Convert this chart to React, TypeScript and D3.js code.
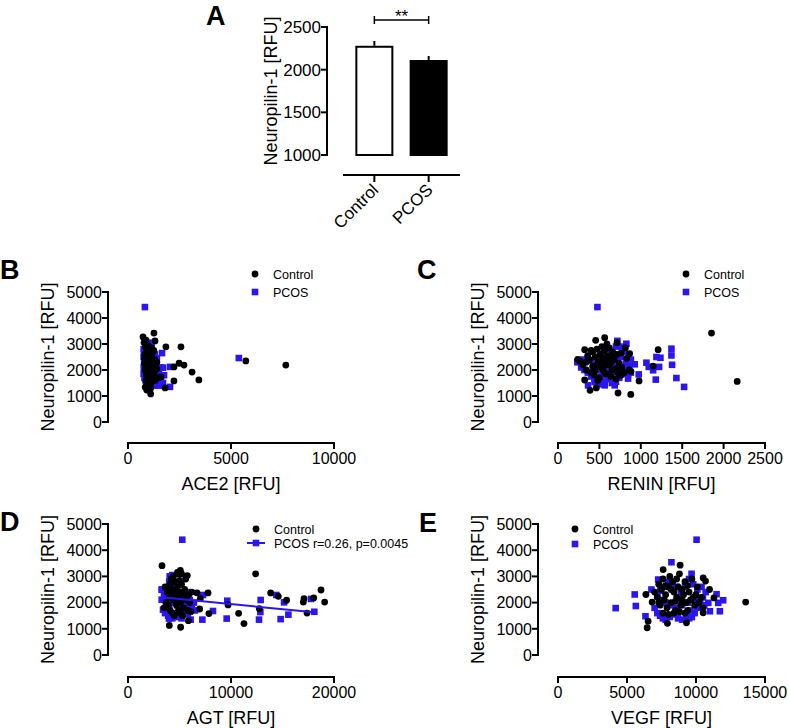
import React from 'react';
import * as d3 from 'd3';

type Pt = [number, number];

const FONT = "'Liberation Sans', Arial, Helvetica, sans-serif";
const BLUE = '#2a16f2';

// ---------- Panel A data ----------
const barCategories = ['Control', 'PCOS'];
const barMeans = [2280, 2113];
const barErrors = [56, 47];
const barTicks = [1000, 1500, 2000, 2500];

// ---------- Scatter axes ----------
const neuroTicks = [0, 1000, 2000, 3000, 4000, 5000];
const ace2Ticks = [0, 5000, 10000];
const reninTicks = [0, 500, 1000, 1500, 2000, 2500];
const agtTicks = [0, 10000, 20000];
const vegfTicks = [0, 5000, 10000, 15000];

// ---------- Panel B: ACE2 ----------
const ace2Control: Pt[] = [
  [1260, 3420], [1310, 3120], [1840, 2890], [2570, 2890], [2480, 2260], [2720, 2190], [2230, 2120],
  [3110, 1920], [3440, 1620], [2230, 1580], [1800, 1310], [1600, 1730], [5720, 2350], [7660, 2190],
  [910, 1230], [1100, 1080], [840, 1340], [730, 3270],
  [780, 3050], [850, 2900], [900, 2800], [950, 2700], [820, 2600], [1000, 2550], [880, 2450], [1100, 2500],
  [930, 2350], [1050, 2300], [800, 2250], [980, 2200], [1150, 2150], [870, 2100], [1020, 2050], [940, 2000],
  [1200, 2000], [860, 1950], [1080, 1900], [990, 1850], [1250, 1850], [900, 1800], [1050, 1750], [950, 1700],
  [1150, 1650], [880, 1600], [1000, 1550], [1300, 1600], [920, 1500], [1100, 1450], [1020, 2700], [1180, 2650],
  [1300, 2400], [1350, 2250], [870, 3150], [960, 2950], [1120, 2850], [1250, 2750], [900, 2250], [1000, 2400],
  [1400, 2050], [1300, 1950], [1450, 1700], [1100, 1300], [980, 1250], [830, 2000], [800, 2450], [1200, 2350],
  [1400, 2300], [1150, 1950], [1050, 2150], [950, 2500],
];
const ace2Pcos: Pt[] = [
  [820, 4420], [5380, 2460], [1650, 2650], [2040, 2120], [2040, 1350], [1750, 1800], [1700, 2090], [1460, 1500],
  [760, 2800], [780, 2650], [760, 2500], [800, 2350], [780, 2200], [770, 2100], [790, 1950], [760, 1850],
  [800, 1700], [850, 1600], [900, 1500], [1000, 1450], [1100, 1400], [1200, 1450], [1300, 1400], [1400, 1500],
  [1500, 1400], [1350, 1550], [1250, 1650], [1150, 1600], [950, 1700], [1050, 1800], [1150, 1850], [1300, 1750],
  [1500, 1900], [1600, 2100], [1450, 2000], [1350, 2200], [1200, 2300], [1100, 2400], [1000, 2600], [900, 2700],
  [850, 3000], [1000, 3050], [1150, 2900], [1300, 2600], [1400, 2450], [1050, 2200], [950, 2000], [880, 1800],
  [1600, 1600], [1700, 1500], [820, 2450], [1250, 2050],
];

// ---------- Panel C: RENIN ----------
const reninControl: Pt[] = [
  [1854, 3420], [2164, 1560], [1209, 2780], [1149, 2150], [979, 1580], [879, 1060], [725, 1115], [387, 1220],
  [463, 1310], [322, 1615], [238, 2410], [322, 2780], [564, 3240], [455, 3140], [713, 3050], [814, 2850], [866, 2630],
  [260, 2350], [300, 2200], [340, 2300], [380, 2400], [420, 2150], [450, 2000], [480, 2300], [510, 2600],
  [540, 2450], [560, 2750], [600, 2550], [620, 2200], [650, 2000], [680, 2400], [710, 2600], [740, 2250],
  [770, 2100], [800, 1900], [830, 2450], [860, 2000], [400, 1900], [440, 1800], [500, 1700], [550, 1950],
  [580, 1850], [640, 1750], [700, 1650], [760, 1800], [360, 2550], [420, 2700], [470, 2800], [530, 2900],
  [590, 3000], [620, 2850], [660, 2700], [450, 2500], [500, 2150], [540, 2050], [600, 2350], [650, 2500],
  [700, 2050], [720, 1900], [760, 2650], [550, 2300], [480, 1600], [400, 2750], [580, 2200], [640, 2300],
  [340, 2000], [880, 1950],
];
const reninPcos: Pt[] = [
  [476, 4420], [1370, 2820], [1370, 2560], [1378, 2200], [1430, 1690], [1523, 1350], [1181, 1630], [1237, 2470],
  [1189, 2500], [1068, 2280], [1096, 2120], [1149, 1990], [1221, 2120], [975, 1830], [846, 1830], [846, 1670],
  [826, 3010], [717, 3120], [927, 2220], [363, 1410], [564, 1410], [685, 1410], [443, 1540], [234, 2310], [282, 2120],
  [240, 2300], [280, 2100], [320, 2000], [360, 1900], [400, 1750], [440, 1650], [470, 1500], [520, 1450],
  [560, 1550], [600, 1650], [650, 1500], [700, 1550], [740, 1700], [780, 1850], [820, 2000], [860, 2150],
  [880, 2400], [850, 2600], [800, 2700], [760, 2500], [720, 2350], [680, 2200], [640, 2100], [600, 2000],
  [560, 1850], [520, 1750], [480, 2000], [440, 2200], [400, 2350], [360, 2500], [500, 2500], [550, 2650],
  [600, 2800], [650, 2600], [700, 2900], [760, 2900], [820, 2250], [880, 1900], [300, 2400], [620, 1800],
  [540, 2200], [680, 1900], [420, 2050], [760, 2050],
];

// ---------- Panel D: AGT ----------
const agtControl: Pt[] = [
  [3300, 3410], [12390, 3100], [5080, 3230], [5760, 3030], [6700, 2370], [7770, 2370], [7020, 2150], [6960, 1755],
  [7860, 1580], [9710, 1910], [10740, 1590], [11260, 1200], [12750, 1770], [13850, 2370], [14590, 2240],
  [15400, 2090], [17020, 2020], [17090, 2150], [18030, 2180], [18740, 2480], [19090, 2020], [17380, 1600],
  [4010, 1130], [5110, 1060], [5860, 1310], [4950, 2110],
  [3600, 2600], [3800, 2400], [4000, 2200], [4100, 2700], [4200, 2900], [4300, 2500], [4400, 2100], [4500, 2800],
  [4600, 2300], [4700, 1900], [4800, 2600], [4900, 3100], [5000, 2400], [5100, 2000], [5200, 2700], [5300, 2200],
  [5400, 1800], [5500, 2500], [5600, 2900], [5700, 2100], [5800, 1700], [5900, 2300], [6000, 2000], [6200, 2400],
  [3900, 1900], [4100, 1700], [4300, 1600], [4500, 1500], [4700, 2000], [4900, 1700], [5100, 1600], [5300, 1500],
  [4400, 3000], [4600, 2450], [4800, 2250], [5000, 2850], [3700, 2000], [4200, 2350], [4000, 2600], [5200, 3100],
  [5400, 2300], [6100, 1650], [3500, 1800], [4800, 3150],
];
const agtPcos: Pt[] = [
  [5270, 4400], [9640, 2070], [9580, 1390], [7220, 1350], [8250, 1680], [12720, 1350], [12850, 1640], [12880, 2100],
  [14820, 1370], [15570, 1540], [14400, 2290], [15150, 2010], [17770, 2140], [18090, 1650], [7280, 2290], [6080, 1350],
  [3270, 2490], [3270, 2110], [3400, 1730], [3980, 1390], [4050, 3000], [4370, 3040],
  [3300, 2500], [3500, 2300], [3600, 2100], [3700, 1900], [3800, 1700], [3900, 1500], [4000, 1800], [4100, 2000],
  [4200, 2400], [4300, 3050], [4400, 2600], [4500, 2200], [4600, 1600], [4700, 1450], [4800, 1900], [4900, 2100],
  [5000, 1500], [5100, 2700], [5200, 2300], [5300, 1800], [5400, 1700], [5500, 2000], [5600, 2200], [5700, 1600],
  [5800, 1550], [5900, 1900], [6000, 2100], [6200, 1800], [6400, 2000], [6500, 1700], [4000, 2800], [3600, 1600],
  [4300, 1400], [5200, 1400], [5800, 2400],
];
// PCOS linear fit: endpoints
const agtPcosFit: Pt[] = [[3270, 2200], [18090, 1630]];

// ---------- Panel E: VEGF ----------
const vegfControl: Pt[] = [
  [13600, 2020], [6460, 1040], [6530, 1290], [6370, 2310], [6820, 2020], [7620, 3260], [8850, 3430], [9310, 1230],
  [7930, 1210], [10520, 2940], [10690, 2820], [10980, 2500], [11300, 2180], [10520, 1610],
  [7000, 2400], [7200, 2200], [7300, 2700], [7400, 1900], [7500, 2500], [7600, 2900], [7700, 2100], [7800, 2300],
  [7900, 1800], [8000, 2600], [8100, 3000], [8200, 2000], [8300, 2800], [8400, 2400], [8500, 1700], [8600, 2200],
  [8700, 2600], [8800, 3100], [8900, 1900], [9000, 2500], [9100, 2300], [9200, 2800], [9300, 2000], [9400, 1700],
  [9500, 2400], [9600, 2100], [9700, 2900], [9800, 2200], [9900, 1900], [10000, 2300], [10200, 2000], [10400, 2200],
  [10500, 1800], [7600, 1600], [8000, 1550], [8400, 1600], [8800, 1650], [7300, 2000], [8200, 2500], [9000, 2100],
  [9400, 2650], [8600, 2900], [7800, 2650], [8500, 2050], [9200, 1600], [10100, 2600],
];
const vegfPcos: Pt[] = [
  [4180, 1790], [5560, 2310], [5640, 1870], [6340, 1480], [10040, 4400], [8220, 3540], [9680, 3100], [11490, 2320],
  [11730, 1670], [11970, 2090], [11610, 1990], [11010, 1670], [10890, 1990], [6770, 2500], [7260, 2880],
  [7000, 1800], [7200, 1600], [7400, 1500], [7600, 1400], [7800, 1350], [8100, 1450], [8400, 1550], [8700, 1400],
  [9000, 1350], [9300, 1500], [9500, 1400], [9700, 1450], [9900, 1600], [10100, 1800], [10300, 2000], [10500, 2200],
  [10700, 2400], [10400, 2600], [10100, 2500], [9800, 2700], [9500, 2900], [9200, 2600], [8900, 2400], [8600, 2600],
  [8300, 2700], [8000, 2800], [7700, 2600], [7400, 2450], [7200, 2250], [7500, 2100], [7800, 2000], [8200, 1900],
  [8600, 1800], [9000, 1900], [9400, 2000], [9800, 2100], [10200, 2100], [10600, 1900], [9600, 1700], [8800, 2150],
];

const R = 3.4;
const SQ = 6.6;

function Square({ cx, cy, fill }: { cx: number; cy: number; fill: string }) {
  return <rect x={cx - SQ / 2} y={cy - SQ / 2} width={SQ} height={SQ} fill={fill} />;
}

interface ScatterProps {
  label: string; labelX: number; labelY: number;
  xDomain: [number, number]; xRange: [number, number]; xTicks: number[]; xAxisY: number; xTitle: string;
  yRange: [number, number]; yAxisX: number; yTitleX: number;
  control: Pt[]; pcos: Pt[];
  legendX: number; legendY: number; legendDy: number; legendTextX: number;
  pcosLabel: string; fit?: Pt[];
}

function ScatterPanel(p: ScatterProps) {
  const x = d3.scaleLinear().domain(p.xDomain).range(p.xRange);
  const y = d3.scaleLinear().domain([0, 5000]).range(p.yRange);
  const line = d3.line<Pt>().x(d => x(d[0])).y(d => y(d[1]));
  const yMid = (p.yRange[0] + p.yRange[1]) / 2;
  const xMid = (p.xRange[0] + p.xRange[1]) / 2;
  return (
    <g fontFamily={FONT}>
      <text x={p.labelX} y={p.labelY} fontSize={27} fontWeight="bold">{p.label}</text>
      {/* y axis */}
      <line x1={p.yAxisX} x2={p.yAxisX} y1={y(0) + 1} y2={y(5000) - 1} stroke="#000" strokeWidth={2} />
      {neuroTicks.map(t => (
        <g key={t}>
          <line x1={p.yAxisX - 6} x2={p.yAxisX} y1={y(t)} y2={y(t)} stroke="#000" strokeWidth={2} />
          <text x={p.yAxisX - 6} y={y(t)} dy="0.36em" textAnchor="end" fontSize={16}>{t}</text>
        </g>
      ))}
      <text transform={`translate(${p.yTitleX},${yMid}) rotate(-90)`} textAnchor="middle" fontSize={18}>Neuropilin-1 [RFU]</text>
      {/* x axis */}
      <line x1={x(p.xDomain[0]) - 1} x2={x(p.xDomain[1]) + 1} y1={p.xAxisY} y2={p.xAxisY} stroke="#000" strokeWidth={2} />
      {p.xTicks.map(t => (
        <g key={t}>
          <line x1={x(t)} x2={x(t)} y1={p.xAxisY} y2={p.xAxisY + 6} stroke="#000" strokeWidth={2} />
          <text x={x(t)} y={p.xAxisY + 21} textAnchor="middle" fontSize={16}>{t}</text>
        </g>
      ))}
      <text x={xMid} y={p.xAxisY + 47} textAnchor="middle" fontSize={18}>{p.xTitle}</text>
      {/* points */}
      {p.pcos.map((d, i) => <Square key={'p' + i} cx={x(d[0])} cy={y(d[1])} fill={BLUE} />)}
      {p.control.map((d, i) => <circle key={'c' + i} cx={x(d[0])} cy={y(d[1])} r={R} fill="#000" />)}
      {p.fit && <path d={line(p.fit) || ''} stroke={BLUE} strokeWidth={2} fill="none" />}
      {/* legend */}
      <circle cx={p.legendX} cy={p.legendY} r={R} fill="#000" />
      <text x={p.legendTextX} y={p.legendY} dy="0.36em" fontSize={12.5}>Control</text>
      {p.fit && <line x1={p.legendX - 9} x2={p.legendX + 9} y1={p.legendY + p.legendDy} y2={p.legendY + p.legendDy} stroke={BLUE} strokeWidth={2} />}
      <Square cx={p.legendX} cy={p.legendY + p.legendDy} fill={BLUE} />
      <text x={p.legendTextX} y={p.legendY + p.legendDy} dy="0.36em" fontSize={12.5}>{p.pcosLabel}</text>
    </g>
  );
}

function BarPanel() {
  const y = d3.scaleLinear().domain([1000, 2500]).range([155, 27]);
  const x = d3.scaleBand().domain(barCategories).range([351, 452]).paddingInner(0.3).paddingOuter(0.08);
  const bw = x.bandwidth();
  const cx = (c: string) => (x(c) as number) + bw / 2;
  const bracketY = 20;
  return (
    <g fontFamily={FONT}>
      <text x={206} y={25} fontSize={27} fontWeight="bold">A</text>
      <line x1={327} x2={327} y1={y(1000) + 1} y2={y(2500) - 1} stroke="#000" strokeWidth={2} />
      {barTicks.map(t => (
        <g key={t}>
          <line x1={321} x2={327} y1={y(t)} y2={y(t)} stroke="#000" strokeWidth={2} />
          <text x={321} y={y(t)} dy="0.36em" textAnchor="end" fontSize={17}>{t}</text>
        </g>
      ))}
      <text transform={`translate(277,${(y(1000) + y(2500)) / 2}) rotate(-90)`} textAnchor="middle" fontSize={18}>Neuropilin-1 [RFU]</text>
      {barCategories.map((c, i) => (
        <g key={c}>
          <line x1={cx(c)} x2={cx(c)} y1={y(barMeans[i])} y2={y(barMeans[i] + barErrors[i])} stroke="#000" strokeWidth={2} />
          <rect x={(x(c) as number) + 1} y={y(barMeans[i]) + 1} width={bw - 2} height={y(1000) - y(barMeans[i]) - 1}
            fill={i === 0 ? '#fff' : '#000'} stroke="#000" strokeWidth={2} />
        </g>
      ))}
      <line x1={343} x2={460} y1={175} y2={175} stroke="#000" strokeWidth={2} />
      {barCategories.map(c => (
        <g key={c}>
          <line x1={cx(c)} x2={cx(c)} y1={175} y2={182} stroke="#000" strokeWidth={2} />
          <text transform={`translate(${cx(c) + 5},191) rotate(-45)`} textAnchor="end" fontSize={17}>{c}</text>
        </g>
      ))}
      <line x1={cx('Control')} x2={cx('PCOS')} y1={bracketY} y2={bracketY} stroke="#000" strokeWidth={1.5} />
      <line x1={cx('Control')} x2={cx('Control')} y1={bracketY - 4} y2={bracketY + 4} stroke="#000" strokeWidth={1.5} />
      <line x1={cx('PCOS')} x2={cx('PCOS')} y1={bracketY - 4} y2={bracketY + 4} stroke="#000" strokeWidth={1.5} />
      <text x={(cx('Control') + cx('PCOS')) / 2} y={22} textAnchor="middle" fontSize={17}>**</text>
    </g>
  );
}

export default function App() {
  return (
    <svg width={789} height={728} style={{ position: 'absolute', left: 0, top: 0, background: '#fff' }}>
      <rect width={789} height={728} fill="#fff" />
      <BarPanel />
      <ScatterPanel label="B" labelX={0} labelY={279} xDomain={[0, 10000]} xRange={[128, 334]} xTicks={ace2Ticks}
        xAxisY={443} xTitle="ACE2 [RFU]" yRange={[422, 292]} yAxisX={108} yTitleX={54}
        control={ace2Control} pcos={ace2Pcos} legendX={255} legendY={274} legendDy={18} legendTextX={273} pcosLabel="PCOS" />
      <ScatterPanel label="C" labelX={417} labelY={279} xDomain={[0, 2500]} xRange={[558, 765]} xTicks={reninTicks}
        xAxisY={443} xTitle="RENIN [RFU]" yRange={[422, 292]} yAxisX={538} yTitleX={484}
        control={reninControl} pcos={reninPcos} legendX={686} legendY={274} legendDy={18} legendTextX={704} pcosLabel="PCOS" />
      <ScatterPanel label="D" labelX={0} labelY={531} xDomain={[0, 20000]} xRange={[128, 334]} xTicks={agtTicks}
        xAxisY={677} xTitle="AGT [RFU]" yRange={[655, 524]} yAxisX={108} yTitleX={54}
        control={agtControl} pcos={agtPcos} legendX={256} legendY={529} legendDy={14} legendTextX={274}
        pcosLabel="PCOS r=0.26, p=0.0045" fit={agtPcosFit} />
      <ScatterPanel label="E" labelX={419} labelY={532} xDomain={[0, 15000]} xRange={[558, 765]} xTicks={vegfTicks}
        xAxisY={677} xTitle="VEGF [RFU]" yRange={[655, 524]} yAxisX={538} yTitleX={484}
        control={vegfControl} pcos={vegfPcos} legendX={575} legendY={529} legendDy={15} legendTextX={593} pcosLabel="PCOS" />
    </svg>
  );
}
